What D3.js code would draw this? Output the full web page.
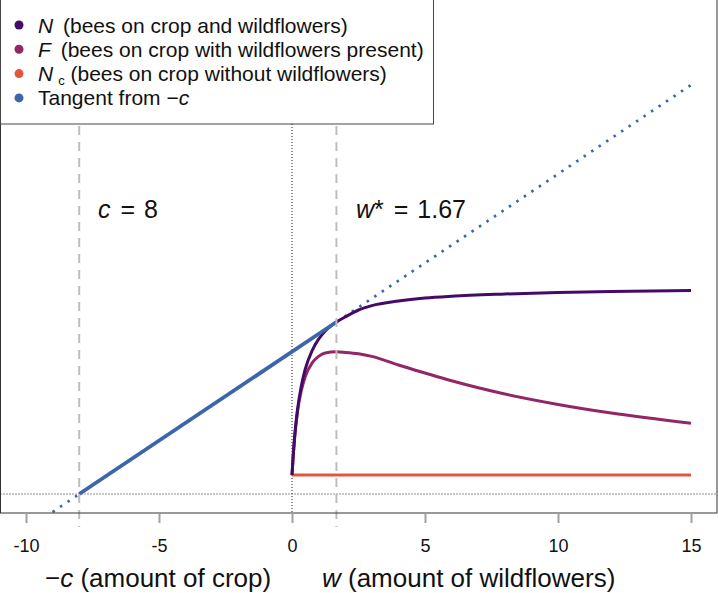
<!DOCTYPE html>
<html>
<head>
<meta charset="utf-8">
<script src="https://cdn.jsdelivr.net/npm/d3@7"></script>
<style>
  body { margin: 0; background: #fff; }
  svg { display: block; font-family: "Liberation Sans", Arial, sans-serif; }
</style>
</head>
<body>
<svg id="chart" width="718" height="593"></svg>
<script>
'use strict';

// values (w = amount of wildflowers)
var wGrid = [0, 0.05, 0.1, 0.2, 0.35, 0.5, 0.75, 1, 1.25, 1.67, 2, 2.5, 3, 4, 5, 6, 8, 10, 12, 15];
var nVals = [0.95, 2.0, 2.87, 4.15, 5.4, 6.25, 7.15, 7.74, 8.15, 8.6, 8.85, 9.2, 9.42, 9.65, 9.8, 9.89, 10.0, 10.08, 10.13, 10.18];
var fVals = [0.95, 1.99, 2.83, 4.05, 5.17, 5.88, 6.54, 6.88, 7.05, 7.11, 7.08, 7.01, 6.88, 6.45, 6.05, 5.66, 5.0, 4.48, 4.05, 3.54];
var ncW = [0, 15];
var ncVals = [0.95, 0.95];
var tangentDotted = [[-9, -0.9], [15, 20.45]];
var tangentSolid = [[-8, 0], [1.67, 8.6]];
var cVal = 8;
var wStar = 1.67;
var xTicks = [-10, -5, 0, 5, 10, 15];

var legendItems = [
	{ sym: 'N', sub: '', rest: ' (bees on crop and wildflowers)', color: '#440a68' },
	{ sym: 'F', sub: '', rest: ' (bees on crop with wildflowers present)', color: '#932667' },
	{ sym: 'N', sub: 'c', rest: ' (bees on crop without wildflowers)', color: '#e4563c' },
	{ sym: '', sub: '', rest: 'Tangent from \u2212', tail: 'c', color: '#3d66aa' }
];

var svg = d3.select('#chart');

//scales
var x = d3.scaleLinear().domain([-10, 15]).range([26, 691]);
var y = d3.scaleLinear().domain([0, 10]).range([494, 294]);

var boxL = 0.5, boxR = 717, boxT = -2, boxB = 513;

svg.append('clipPath').attr('id', 'plotclip')
	.append('rect').attr('x', boxL).attr('y', boxT)
	.attr('width', boxR - boxL).attr('height', boxB - boxT);

var plot = svg.append('g').attr('clip-path', 'url(#plotclip)');

//reference lines
plot.append('line')
	.attr('x1', boxL).attr('x2', boxR)
	.attr('y1', y(0)).attr('y2', y(0))
	.attr('stroke', '#222').attr('stroke-width', 1).attr('stroke-dasharray', '1 2');
plot.append('line')
	.attr('x1', x(0)).attr('x2', x(0))
	.attr('y1', boxT).attr('y2', boxB)
	.attr('stroke', '#222').attr('stroke-width', 1).attr('stroke-dasharray', '1 2');

[-cVal, wStar].forEach(function(v) {
	svg.append('line')
		.attr('x1', x(v)).attr('x2', x(v))
		.attr('y1', boxT).attr('y2', 527)
		.attr('stroke', '#bdbdbd').attr('stroke-width', 2).attr('stroke-dasharray', '9 7');
});

//series
var line = d3.line().x(function(d) { return x(d[0]); }).y(function(d) { return y(d[1]); });
var curve = d3.line().curve(d3.curveMonotoneX)
	.x(function(d) { return x(d[0]); }).y(function(d) { return y(d[1]); });

plot.append('path').attr('d', line(tangentDotted))
	.attr('fill', 'none').attr('stroke', '#3d66aa').attr('stroke-width', 2.7)
	.attr('stroke-dasharray', '2.5 6.5');

plot.append('path').attr('d', line(ncW.map(function(w, i) { return [w, ncVals[i]]; })))
	.attr('fill', 'none').attr('stroke', '#e4563c').attr('stroke-width', 3);

plot.append('path').attr('d', curve(wGrid.map(function(w, i) { return [w, fVals[i]]; })))
	.attr('fill', 'none').attr('stroke', '#932667').attr('stroke-width', 3);

plot.append('path').attr('d', curve(wGrid.map(function(w, i) { return [w, nVals[i]]; })))
	.attr('fill', 'none').attr('stroke', '#440a68').attr('stroke-width', 3);

plot.append('path').attr('d', line(tangentSolid))
	.attr('fill', 'none').attr('stroke', '#3d66aa').attr('stroke-width', 3.8);

//box
svg.append('rect')
	.attr('x', boxL).attr('y', boxT).attr('width', boxR - boxL).attr('height', boxB - boxT)
	.attr('fill', 'none').attr('stroke', '#333').attr('stroke-width', 1);

//axis
var axis = svg.append('g').attr('transform', 'translate(0,' + boxB + ')')
	.call(d3.axisBottom(x).tickValues(xTicks).tickSize(10).tickPadding(16)
		.tickFormat(function(d) { return String(d); }));
axis.select('.domain').remove();
axis.selectAll('.tick line').attr('stroke', '#a0a0a0').attr('stroke-width', 2);
axis.selectAll('.tick text').attr('font-size', 18).attr('fill', '#111')
	.attr('font-family', '"Liberation Sans", Arial, sans-serif');

//axis titles
var t1 = svg.append('text').attr('x', 45).attr('y', 587).attr('font-size', 26).attr('fill', '#111');
t1.append('tspan').text('\u2212');
t1.append('tspan').attr('font-style', 'italic').text('c');
t1.append('tspan').text(' (amount of crop)');

var t2 = svg.append('text').attr('x', 322).attr('y', 587).attr('font-size', 26).attr('fill', '#111');
t2.append('tspan').attr('font-style', 'italic').text('w');
t2.append('tspan').text(' (amount of wildflowers)');

//annotations
var a1 = svg.append('text').attr('x', 98).attr('y', 218).attr('font-size', 25).attr('fill', '#111');
a1.append('tspan').attr('font-style', 'italic').text('c');
a1.append('tspan').attr('dx', 3).text(' = ');
a1.append('tspan').attr('dx', 2).text(cVal);

var a2 = svg.append('text').attr('x', 356).attr('y', 218).attr('font-size', 25).attr('fill', '#111');
a2.append('tspan').attr('font-style', 'italic').text('w');
a2.append('tspan').text('*');
a2.append('tspan').attr('dx', 3).text(' = ');
a2.append('tspan').attr('dx', 2).text(wStar);

//legend
var legend = svg.append('g');
legend.append('rect').attr('x', 0.5).attr('y', -2).attr('width', 433).attr('height', 126)
	.attr('fill', '#fff').attr('stroke', '#444').attr('stroke-width', 1);

var rows = legend.selectAll('g.row').data(legendItems).enter().append('g')
	.attr('class', 'row')
	.attr('transform', function(d, i) { return 'translate(0,' + (25 + i * 24.3) + ')'; });

rows.append('circle').attr('cx', 19).attr('cy', 0).attr('r', 4.5)
	.attr('fill', function(d) { return d.color; });

var lt = rows.append('text').attr('x', 38).attr('y', 7.5).attr('font-size', 21).attr('fill', '#111');
lt.each(function(d) {
	var t = d3.select(this);
	if (d.sym) { t.append('tspan').attr('font-style', 'italic').text(d.sym); }
	if (d.sub) { t.append('tspan').attr('font-size', 13).attr('dy', 3.5).attr('dx', 5).text(d.sub); }
	t.append('tspan').attr('dy', d.sub ? -3.5 : null).attr('dx', d.sym && !d.sub ? 4 : null).text(d.rest);
	if (d.tail) { t.append('tspan').attr('font-style', 'italic').text(d.tail); }
});
</script>
</body>
</html>
